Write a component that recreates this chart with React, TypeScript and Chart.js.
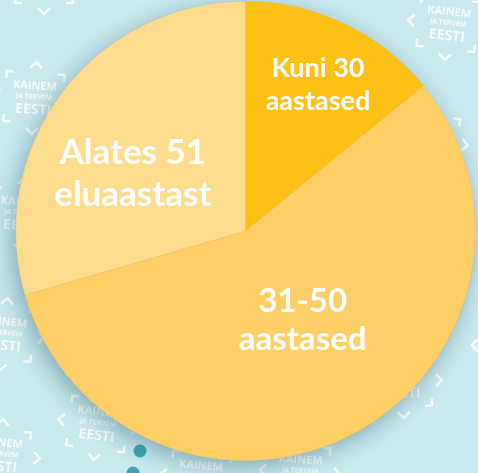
import React, { useEffect, useRef } from "react";
import { Chart, registerables } from "chart.js";
Chart.register(...registerables);

const categories = ["Kuni 30 aastased", "31-50 aastased", "Alates 51 eluaastast"];
const labelLines = [["Kuni 30", "aastased"], ["31-50", "aastased"], ["Alates 51", "eluaastast"]];
const values = [14.1, 56.4, 29.5];
const colors = ["#FDC116", "#FECF66", "#FDDC8E"];

// label placement per slice: radius fraction, angle shift (deg), font size, line gap
const labelPlacement = [
  { r: 0.71, shift: 1, size: 27, gap: 33 },
  { r: 0.46, shift: -5, size: 33, gap: 38 },
  { r: 0.55, shift: -10, size: 35, gap: 42 },
];

// decorative background watermarks: x, y, rotation (deg)
const watermarks = [
  [448, 24, 6],
  [34, 98, 4],
  [22, 214, 4],
  [4, 334, 6],
  [98, 424, 7],
  [0, 455, 5],
  [200, 478, 5],
  [300, 472, 3],
  [402, 382, -3],
  [428, 140, 8],
  [512, 345, 0],
  [44, -22, 0],
];
const dots = [
  [140, 451],
  [133, 473],
];

const bgPlugin = {
  id: "bgDecor",
  beforeDraw(chart: any) {
    const ctx = chart.ctx;
    ctx.save();
    ctx.fillStyle = "#C9E9EE";
    ctx.fillRect(0, 0, chart.width, chart.height);
    for (const [x, y, rot] of watermarks) {
      ctx.save();
      ctx.translate(x, y);
      ctx.rotate((rot * Math.PI) / 180);
      ctx.fillStyle = "rgba(255,255,255,0.85)";
      ctx.strokeStyle = "rgba(255,255,255,0.85)";
      ctx.lineWidth = 2.5;
      ctx.textAlign = "center";
      ctx.textBaseline = "middle";
      ctx.font = "bold 11px 'Open Sans'";
      ctx.fillText("KAINEM", 0, -12);
      ctx.font = "bold 7px 'Open Sans'";
      ctx.fillText("JA TERVEM", 0, -1);
      ctx.font = "bold 14px 'Open Sans'";
      ctx.fillText("EESTI", 0, 12);
      ctx.beginPath();
      ctx.moveTo(-29, -18); ctx.lineTo(-29, -25); ctx.lineTo(-22, -25);
      ctx.moveTo(22, -25); ctx.lineTo(29, -25); ctx.lineTo(29, -18);
      ctx.moveTo(-29, 18); ctx.lineTo(-29, 25); ctx.lineTo(-22, 25);
      ctx.moveTo(22, 25); ctx.lineTo(29, 25); ctx.lineTo(29, 18);
      ctx.moveTo(-6, -30); ctx.lineTo(0, -36); ctx.lineTo(6, -30);
      ctx.moveTo(-6, 30); ctx.lineTo(0, 36); ctx.lineTo(6, 30);
      ctx.moveTo(-34, -6); ctx.lineTo(-40, 0); ctx.lineTo(-34, 6);
      ctx.moveTo(34, -6); ctx.lineTo(40, 0); ctx.lineTo(34, 6);
      ctx.stroke();
      ctx.restore();
    }
    ctx.fillStyle = "#3CA7B1";
    for (const [x, y] of dots) {
      ctx.beginPath();
      ctx.arc(x, y, 6.5, 0, Math.PI * 2);
      ctx.fill();
    }
    ctx.restore();
  },
  beforeDatasetsDraw(chart: any) {
    const meta = chart.getDatasetMeta(0);
    const arc = meta.data[0];
    if (!arc) return;
    const { x, y, outerRadius } = arc.getProps(["x", "y", "outerRadius"], true);
    const ctx = chart.ctx;
    ctx.save();
    ctx.shadowColor = "rgba(30,80,100,0.45)";
    ctx.shadowBlur = 24;
    ctx.shadowOffsetX = -4;
    ctx.shadowOffsetY = 6;
    ctx.fillStyle = colors[1];
    ctx.beginPath();
    ctx.arc(x, y, outerRadius - 1, 0, Math.PI * 2);
    ctx.fill();
    ctx.restore();
  },
};

const labelPlugin = {
  id: "sliceLabels",
  afterDatasetsDraw(chart: any) {
    const meta = chart.getDatasetMeta(0);
    const ctx = chart.ctx;
    ctx.save();
    ctx.fillStyle = "#FFFFFF";
    ctx.textAlign = "center";
    ctx.textBaseline = "middle";
    meta.data.forEach((arc: any, i: number) => {
      const p = arc.getProps(["x", "y", "startAngle", "endAngle", "outerRadius"], true);
      const pl = labelPlacement[i];
      const mid = (p.startAngle + p.endAngle) / 2 + (pl.shift * Math.PI) / 180;
      const cx = p.x + Math.cos(mid) * p.outerRadius * pl.r;
      const cy = p.y + Math.sin(mid) * p.outerRadius * pl.r;
      ctx.font = `bold ${pl.size}px Lato`;
      const lines = labelLines[i];
      lines.forEach((ln, k) => {
        const dy = (k - (lines.length - 1) / 2) * pl.gap;
        ctx.fillText(ln, cx, cy + dy);
      });
    });
    ctx.restore();
  },
};

export default function App() {
  const ref = useRef<HTMLCanvasElement>(null);
  useEffect(() => {
    if (!ref.current) return;
    const chart = new Chart(ref.current, {
      type: "pie",
      data: {
        labels: categories,
        datasets: [
          {
            data: values,
            backgroundColor: colors,
            borderWidth: 0.5,
            borderColor: "rgba(215,170,90,0.45)",
          },
        ],
      },
      options: {
        responsive: false,
        animation: false,
        layout: { padding: { left: 15, right: 2, top: 1, bottom: 12 } },
        plugins: {
          legend: { display: false },
          tooltip: { enabled: false },
        },
      },
      plugins: [bgPlugin, labelPlugin],
    });
    return () => chart.destroy();
  }, []);
  return (
    <div style={{ position: "fixed", left: 0, top: 0, width: 478, height: 473 }}>
      <canvas ref={ref} width={478} height={473} style={{ display: "block" }} />
    </div>
  );
}
